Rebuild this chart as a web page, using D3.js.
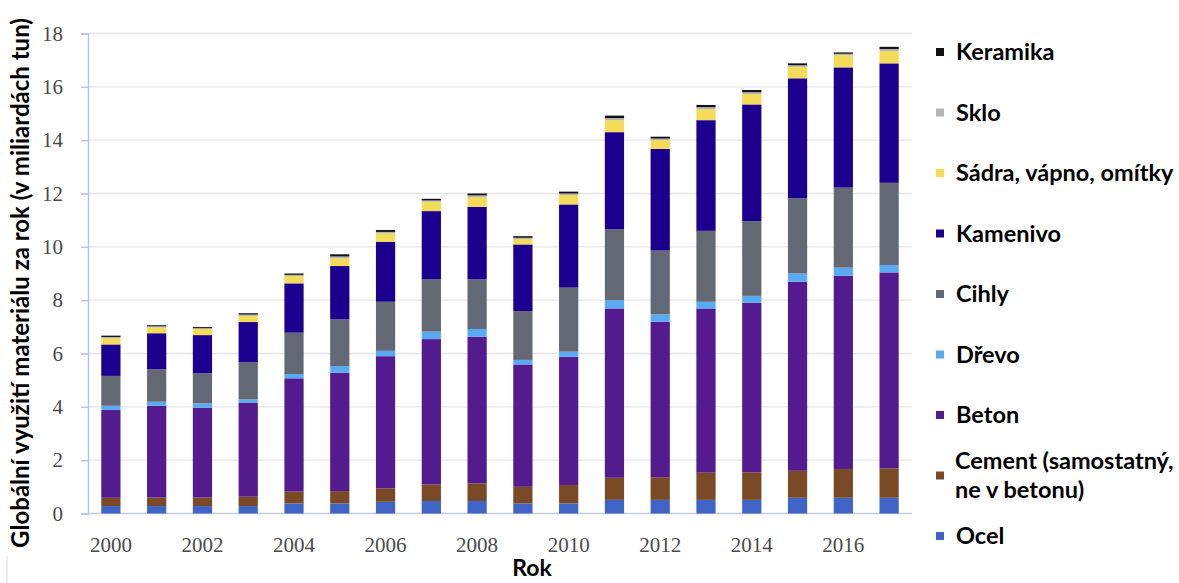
<!DOCTYPE html>
<html>
<head>
<meta charset="utf-8">
<script src="https://cdn.jsdelivr.net/npm/d3@7"></script>
<style>
  html, body { margin: 0; padding: 0; background: #fff; }
  svg { display: block; }
</style>
</head>
<body>
<div id="chart"></div>
<script>
// Global use of building materials per year, stacked bars
const years = d3.range(2000, 2018);

// stack order from the bottom up
const seriesKeys = ["ocel", "cement", "beton", "drevo", "cihly", "kamenivo", "sadra", "sklo", "keramika"];
const seriesNames = {
  ocel: "Ocel",
  cement: "Cement (samostatný, ne v betonu)",
  beton: "Beton",
  drevo: "Dřevo",
  cihly: "Cihly",
  kamenivo: "Kamenivo",
  sadra: "Sádra, vápno, omítky",
  sklo: "Sklo",
  keramika: "Keramika"
};
const seriesColors = {
  ocel: "#3f64c6",
  cement: "#7a4a26",
  beton: "#541b8e",
  drevo: "#58aaf2",
  cihly: "#646874",
  kamenivo: "#1b008f",
  sadra: "#f4dc58",
  sklo: "#b4b4b4",
  keramika: "#111111"
};

// values in billions of tonnes
const ocel     = [0.28, 0.28, 0.28, 0.28, 0.38, 0.38, 0.44, 0.47, 0.47, 0.38, 0.38, 0.51, 0.51, 0.51, 0.51, 0.59, 0.59, 0.59];
const cement   = [0.31, 0.32, 0.32, 0.35, 0.44, 0.46, 0.50, 0.62, 0.66, 0.62, 0.69, 0.83, 0.85, 1.02, 1.03, 1.01, 1.08, 1.10];
const beton    = [3.29, 3.44, 3.37, 3.53, 4.25, 4.44, 4.96, 5.45, 5.50, 4.59, 4.81, 6.35, 5.83, 6.16, 6.36, 7.09, 7.25, 7.35];
const drevo    = [0.16, 0.15, 0.16, 0.12, 0.16, 0.25, 0.20, 0.28, 0.29, 0.17, 0.19, 0.31, 0.28, 0.25, 0.26, 0.31, 0.30, 0.28];
const cihly    = [1.12, 1.22, 1.13, 1.39, 1.55, 1.75, 1.84, 1.97, 1.86, 1.83, 2.40, 2.66, 2.39, 2.66, 2.80, 2.82, 3.00, 3.08];
const kamenivo = [1.18, 1.35, 1.43, 1.51, 1.85, 2.00, 2.25, 2.55, 2.72, 2.50, 3.12, 3.64, 3.81, 4.15, 4.38, 4.50, 4.51, 4.48];
const sadra    = [0.23, 0.22, 0.23, 0.23, 0.27, 0.29, 0.31, 0.35, 0.36, 0.20, 0.35, 0.45, 0.33, 0.41, 0.39, 0.43, 0.46, 0.46];
const sklo     = [0.05, 0.04, 0.03, 0.05, 0.05, 0.07, 0.06, 0.05, 0.07, 0.05, 0.06, 0.08, 0.06, 0.08, 0.07, 0.06, 0.05, 0.08];
const keramika = [0.05, 0.04, 0.04, 0.05, 0.05, 0.08, 0.07, 0.06, 0.07, 0.06, 0.07, 0.09, 0.07, 0.08, 0.08, 0.07, 0.05, 0.08];

const yTicks = d3.range(0, 19, 2);
const xTickYears = d3.range(2000, 2017, 2);

const seriesValues = { ocel, cement, beton, drevo, cihly, kamenivo, sadra, sklo, keramika };
const rows = years.map((yr, i) => {
  const r = { year: yr };
  seriesKeys.forEach(k => { r[k] = seriesValues[k][i]; });
  return r;
});

const width = 1179, height = 583;
const plot = { left: 88, right: 912, top: 33.5, bottom: 513.5 };

const svg = d3.select("#chart").append("svg")
  .attr("width", width)
  .attr("height", height)
  .attr("viewBox", `0 0 ${width} ${height}`);

svg.append("rect").attr("width", width).attr("height", height).attr("fill", "#fff");

const x = d3.scaleBand()
  .domain(years)
  .range([plot.left, plot.right])
  .paddingInner(0.58)
  .paddingOuter(0.29);

const y = d3.scaleLinear()
  .domain([0, 18])
  .range([plot.bottom, plot.top]);

// gridlines
svg.append("g")
  .selectAll("line")
  .data(yTicks.filter(t => t > 0))
  .join("line")
  .attr("x1", plot.left)
  .attr("x2", plot.right)
  .attr("y1", d => y(d))
  .attr("y2", d => y(d))
  .attr("stroke", "#e6e6e6")
  .attr("stroke-width", 1.3);

const serif = "'Liberation Serif', 'Times New Roman', serif";

// y axis
const yAxis = svg.append("g")
  .attr("transform", `translate(${plot.left},0)`)
  .call(d3.axisLeft(y).tickValues(yTicks).tickSize(7).tickPadding(18));
yAxis.select(".domain").attr("stroke", "#b9c3de").attr("stroke-width", 1.5);
yAxis.selectAll(".tick line").attr("stroke", "#b9c3de").attr("stroke-width", 1.5);
yAxis.selectAll(".tick text")
  .attr("font-family", serif)
  .attr("font-size", 21)
  .attr("fill", "#4a4a4a");

// baseline
svg.append("line")
  .attr("x1", plot.left).attr("x2", plot.right)
  .attr("y1", y(0)).attr("y2", y(0))
  .attr("stroke", "#c4cce2").attr("stroke-width", 1.3);

// stacked bars
const stack = d3.stack().keys(seriesKeys);
const layers = stack(rows);

svg.append("g")
  .selectAll("g")
  .data(layers)
  .join("g")
  .attr("fill", d => seriesColors[d.key])
  .selectAll("rect")
  .data(d => d)
  .join("rect")
  .attr("x", d => x(d.data.year))
  .attr("width", x.bandwidth())
  .attr("y", d => y(d[1]))
  .attr("height", d => Math.max(0, y(d[0]) - y(d[1])));

// x axis labels (every second year)
svg.append("g")
  .selectAll("text")
  .data(xTickYears)
  .join("text")
  .attr("x", d => x(d) + x.bandwidth() / 2)
  .attr("y", 552)
  .attr("text-anchor", "middle")
  .attr("font-family", serif)
  .attr("font-size", 21)
  .attr("fill", "#4a4a4a")
  .text(d => d);

const sans = "Lato, 'Open Sans', sans-serif";

// axis titles
svg.append("text")
  .attr("x", 532)
  .attr("y", 576)
  .attr("text-anchor", "middle")
  .attr("font-family", sans)
  .attr("font-weight", 700)
  .attr("font-size", 23)
  .attr("fill", "#000")
  .text("Rok");

const yTitle = svg.append("text")
  .attr("transform", "translate(29,283) rotate(-90)")
  .attr("text-anchor", "middle")
  .attr("font-family", sans)
  .attr("font-weight", 700)
  .attr("font-size", 22)
  .attr("fill", "#000")
  .text("Globální využití materiálu za rok (v miliardách tun)");

// size the title so it spans the same height as in the source
const titleLen = yTitle.node().getComputedTextLength();
yTitle.attr("font-size", 22 * 530 / titleLen);

// legend, top to bottom is the reverse of the stack
const legendKeys = seriesKeys.slice().reverse();
const legendY = d3.scalePoint().domain(legendKeys).range([52, 536]);

const legend = svg.append("g")
  .selectAll("g")
  .data(legendKeys)
  .join("g")
  .attr("transform", d => `translate(936,${legendY(d)})`);

legend.append("rect")
  .attr("x", 0)
  .attr("y", -4)
  .attr("width", 8)
  .attr("height", 8)
  .attr("fill", d => seriesColors[d]);

legend.append("text")
  .attr("x", 20)
  .attr("font-family", sans)
  .attr("font-weight", 700)
  .attr("font-size", 23.5)
  .attr("fill", "#000")
  .each(function (d) {
    const t = d3.select(this);
    if (d === "cement") {
      t.append("tspan").attr("x", 19).attr("y", -15).attr("dy", "0.35em").text("Cement (samostatný,");
      t.append("tspan").attr("x", 19).attr("y", 14).attr("dy", "0.35em").text("ne v betonu)");
    } else {
      t.attr("dy", "0.35em").text(seriesNames[d]);
    }
  });

// faint frame edge at the bottom left
svg.append("line")
  .attr("x1", 7).attr("x2", 7)
  .attr("y1", 556).attr("y2", height)
  .attr("stroke", "#d8d8d8");
</script>
</body>
</html>
